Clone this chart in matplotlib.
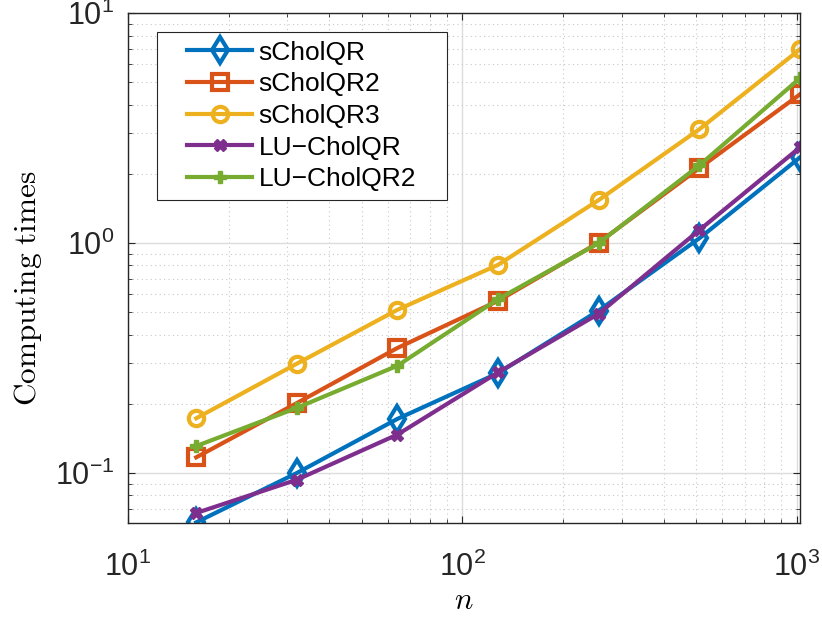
import matplotlib
matplotlib.use("Agg")
import matplotlib.pyplot as plt
import numpy as np
from matplotlib.ticker import LogLocator, NullFormatter
from matplotlib.legend_handler import HandlerLine2D

plt.rcParams['font.family'] = ['Liberation Sans', 'DejaVu Sans']
plt.rcParams['mathtext.fontset'] = 'custom'
plt.rcParams['mathtext.rm'] = 'Liberation Sans'
plt.rcParams['mathtext.it'] = 'Liberation Sans:italic'

# matrix sizes
n = [16, 32, 64, 128, 256, 512, 1024]

# computing times per method
scholqr = [0.061, 0.100, 0.172, 0.272, 0.509, 1.05, 2.36]
scholqr2 = [0.117, 0.2015, 0.350, 0.561, 1.006, 2.12, 4.44]
scholqr3 = [0.173, 0.299, 0.513, 0.805, 1.54, 3.13, 6.97]
lu_cholqr = [0.067, 0.0935, 0.147, 0.274, 0.493, 1.14, 2.61]
lu_cholqr2 = [0.131, 0.192, 0.293, 0.571, 1.0, 2.18, 5.22]

labels = ['sCholQR', 'sCholQR2', 'sCholQR3', 'LU−CholQR', 'LU−CholQR2']
colors = ['#0072BD', '#D95319', '#EDB120', '#7E2F8E', '#77AC30']
markers = ['d', 's', 'o', 'X', 'P']

fig = plt.figure(figsize=(8.22, 6.18), dpi=100)
ax = fig.add_axes([0.1557, 0.1537, 0.8175, 0.8248])

series = [scholqr, scholqr2, scholqr3, lu_cholqr, lu_cholqr2]
for y, lab, c, m in zip(series, labels, colors, markers):
    if m in ('X', 'P'):
        ax.plot(n, y, color=c, lw=3, marker=m, ms=9, mfc=c, mec=c, label=lab)
    elif m == 'd':
        ax.plot(n, y, color=c, lw=3, marker=m, ms=13, mfc='none', mew=3,
                label=lab)
    else:
        ax.plot(n, y, color=c, lw=3, marker=m, ms=11, mfc='none', mew=3,
                label=lab)

ax.set_xscale('log')
ax.set_yscale('log')
ax.set_xlim(10, 1024)
ax.set_ylim(0.0606, 10)
ax.xaxis.set_minor_locator(LogLocator(base=10, subs=np.arange(2, 10)))
ax.yaxis.set_minor_locator(LogLocator(base=10, subs=np.arange(2, 10)))
ax.xaxis.set_minor_formatter(NullFormatter())
ax.yaxis.set_minor_formatter(NullFormatter())

ax.grid(True, which='major', color='#dcdcdc', lw=1, ls='-')
ax.grid(True, which='minor', color='#c8c8c8', lw=0.8, ls=(0, (1, 3)))
ax.set_axisbelow(True)

for s in ax.spines.values():
    s.set_color('#262626')
    s.set_linewidth(1)
ax.tick_params(which='both', direction='in', top=True, right=True,
               color='#262626', labelcolor='#262626')
ax.tick_params(which='major', length=5, labelsize=22)
ax.tick_params(axis='x', which='major', pad=21)
ax.tick_params(axis='y', which='major', pad=10)
ax.tick_params(which='minor', length=3)

ax.set_xlabel(r'$n$', fontsize=22, math_fontfamily='cm', labelpad=2)
ax.set_ylabel(r'$\mathrm{Computing\ times}$', fontsize=22.5,
              math_fontfamily='cm')
ax.yaxis.set_label_coords(-0.125, 0.461)

# legend box stretched to a fixed width, handles indented from the frame
leg = ax.legend(loc='upper left', bbox_to_anchor=(0.043, 0.963, 0.4315, 0),
                mode='expand', borderaxespad=0, fancybox=False, framealpha=1,
                edgecolor='#262626', handlelength=3.3, handletextpad=0.23,
                labelspacing=0.29, borderpad=0.32,
                handler_map={plt.Line2D: HandlerLine2D(xpad=0.82)},
                prop={'family': ['Liberation Sans', 'DejaVu Sans'], 'size': 19})
leg.get_frame().set_linewidth(0.8)

fig.savefig('out.png', dpi=100)
